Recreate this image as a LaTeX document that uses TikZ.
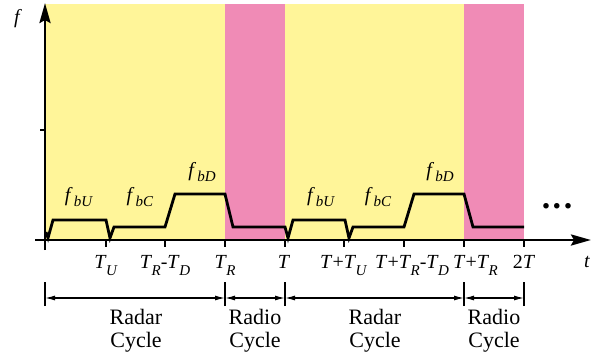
\documentclass[tikz,border=0pt]{standalone}
\usepackage{fontspec}
\setmainfont{Liberation Serif}
\usepackage{xcolor}
\usepackage{tikz}
\usetikzlibrary{arrows.meta}

\definecolor{radaryellow}{HTML}{FFF599}
\definecolor{radiopink}{HTML}{F08BB6}

\newcommand{\Tsub}[1]{\textit{T}\kern-0.5pt\raisebox{-7pt}{\fontsize{15}{15}\selectfont\textit{#1}}}
\newcommand{\fsub}[1]{\textit{f}\kern1pt\raisebox{-5pt}{\fontsize{15}{15}\selectfont\textit{b#1}}}

\tikzset{
  axisline/.style={line width=2.8pt, -{Stealth[length=20pt,width=11pt,inset=3pt]}},
  tickline/.style={line width=2.2pt},
  beatline/.style={line width=2.8pt, line join=miter},
  ticklbl/.style={anchor=base, inner sep=0pt, font=\fontsize{20}{20}\selectfont},
  beatlbl/.style={anchor=base, inner sep=0pt, font=\fontsize{20}{20}\selectfont},
  cyclebar/.style={line width=1.4pt},
  cyclearrow/.style={line width=1.2pt, {Latex[length=10pt,width=5pt]}-{Latex[length=10pt,width=5pt]}},
  cyclelbl/.style={anchor=base, inner sep=0pt, align=center, font=\fontsize{22}{23}\selectfont}
}

\begin{document}
\begin{tikzpicture}[x=1pt, y=1pt]
  \useasboundingbox (0,0) rectangle (591,360);

  % cycle backgrounds
  \fill[radaryellow] (45,120) rectangle (225,356);
  \fill[radiopink] (225,120) rectangle (285,356);
  \fill[radaryellow] (285,120) rectangle (464,356);
  \fill[radiopink] (464,120) rectangle (524,356);

  % time ticks
  \coordinate (t0) at (45,120);
  \coordinate (tU) at (106,120);
  \coordinate (tRD) at (165,120);
  \coordinate (tR) at (225,120);
  \coordinate (tT) at (285,120);
  \coordinate (tTU) at (344,120);
  \coordinate (tTRD) at (404,120);
  \coordinate (tTR) at (464,120);
  \coordinate (t2T) at (524,120);

  \foreach \c in {tU,tRD,tR,tT,tTU,tTRD,tTR,t2T}
    \draw[tickline] (\c) -- ++(0,-7);
  \draw[tickline] (40,230) -- (45,230);

  % beat frequency
  \draw[beatline] (46,128) -- (48,122) -- (53,140) -- (106,140) -- (110,122)
    -- (114,133) -- (165,133) -- (175,166) -- (225,166) -- (233,133)
    -- (285,133) -- (288,122) -- (293,140) -- (345,140) -- (349,122)
    -- (353,133) -- (404,133) -- (414,166) -- (464,166) -- (473,133)
    -- (524,133);

  % axes
  \draw[axisline] (35,120) -- (591,120);
  \draw[axisline] (45,110) -- (45,357);
  \node[beatlbl] (lf) at (18,337) {\textit{f}};
  \node[ticklbl] (lt) at (587,93) {\textit{t}};

  \node[beatlbl] (fU1) at (79,159) {\fsub{U}};
  \node[beatlbl] (fC1) at (140,159) {\fsub{C}};
  \node[beatlbl] (fD1) at (202,184) {\fsub{D}};
  \node[beatlbl] (fU2) at (321,159) {\fsub{U}};
  \node[beatlbl] (fC2) at (378,159) {\fsub{C}};
  \node[beatlbl] (fD2) at (440,184) {\fsub{D}};

  \node[ticklbl] (lU) at ([yshift=-28pt]tU) {\Tsub{U}};
  \node[ticklbl] (lRD) at ([yshift=-28pt]tRD) {\Tsub{R}-\Tsub{D}};
  \node[ticklbl] (lR) at ([yshift=-28pt]tR) {\Tsub{R}};
  \node[ticklbl] (lT) at ([xshift=-1pt,yshift=-28pt]tT) {\textit{T}};
  \node[ticklbl,anchor=base west] (lTU) at ([xshift=-24pt,yshift=-28pt]tTU) {\textit{T}+\Tsub{U}};
  \node[ticklbl,anchor=base west] (lTRD) at ([xshift=-29pt,yshift=-28pt]tTRD) {\textit{T}+\Tsub{R}-\Tsub{D}};
  \node[ticklbl,anchor=base west] (lTR) at ([xshift=-11pt,yshift=-28pt]tTR) {\textit{T}+\Tsub{R}};
  \node[ticklbl] (l2T) at ([yshift=-28pt]t2T) {2\textit{T}};

  \node[anchor=base, inner sep=0pt] (dots) at (557,152)
    {\fontsize{34}{34}\selectfont\textbf{.\kern2.5pt.\kern2.5pt.}};

  % cycle spans
  \foreach \x [count=\i from 0] in {45,225,285,464,524} {
    \coordinate (b\i) at (\x,62);
    \draw[cyclebar] (\x,54) -- (\x,78);
  }
  \draw[cyclearrow] (b0) -- (b1);
  \draw[cyclearrow] (b1) -- (b2);
  \draw[cyclearrow] (b2) -- (b3);
  \draw[cyclearrow] (b3) -- (b4);

  \node[cyclelbl] (radar1) at (136,13) {Radar\\Cycle};
  \node[cyclelbl] (radio1) at (255,13) {Radio\\Cycle};
  \node[cyclelbl] (radar2) at (375,13) {Radar\\Cycle};
  \node[cyclelbl] (radio2) at (494,13) {Radio\\Cycle};
\end{tikzpicture}
\end{document}
